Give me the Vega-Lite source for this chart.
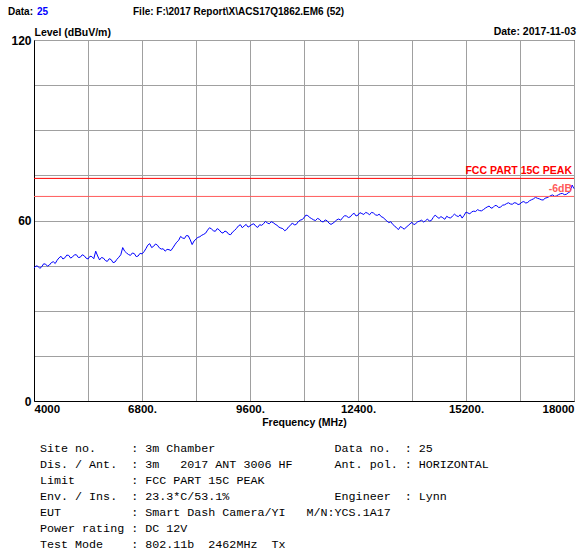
{
  "$schema": "https://vega.github.io/schema/vega-lite/v6.json",
  "width": 540,
  "height": 361,
  "autosize": "none",
  "padding": {"left": 34, "top": 40, "right": 8, "bottom": 153},
  "background": "white",
  "config": {
    "view": {"stroke": "black", "strokeWidth": 1},
    "font": "Liberation Sans"
  },
  "title": {
    "text": [
      "Site no.\u00a0\u00a0\u00a0\u00a0\u00a0: 3m Chamber\u00a0\u00a0\u00a0\u00a0\u00a0\u00a0\u00a0\u00a0\u00a0\u00a0\u00a0\u00a0\u00a0\u00a0\u00a0\u00a0\u00a0Data no.\u00a0\u00a0: 25",
      "Dis. / Ant.\u00a0\u00a0: 3m\u00a0\u00a0\u00a02017 ANT 3006 HF\u00a0\u00a0\u00a0\u00a0\u00a0\u00a0Ant. pol. : HORIZONTAL",
      "Limit\u00a0\u00a0\u00a0\u00a0\u00a0\u00a0\u00a0\u00a0: FCC PART 15C PEAK",
      "Env. / Ins.\u00a0\u00a0: 23.3*C/53.1%\u00a0\u00a0\u00a0\u00a0\u00a0\u00a0\u00a0\u00a0\u00a0\u00a0\u00a0\u00a0\u00a0\u00a0\u00a0Engineer\u00a0\u00a0: Lynn",
      "EUT\u00a0\u00a0\u00a0\u00a0\u00a0\u00a0\u00a0\u00a0\u00a0\u00a0: Smart Dash Camera/YI\u00a0\u00a0\u00a0M/N:YCS.1A17",
      "Power rating : DC 12V",
      "Test Mode\u00a0\u00a0\u00a0\u00a0: 802.11b\u00a0\u00a02462MHz\u00a0\u00a0Tx"
    ],
    "orient": "bottom",
    "anchor": "start",
    "frame": "group",
    "font": "Liberation Mono",
    "fontSize": 11.7,
    "fontWeight": "normal",
    "color": "black",
    "lineHeight": 16,
    "offset": 15,
    "dx": 6
  },
  "datasets": {
    "trace": [
      {"freq": 4000, "level": 44.2}, {"freq": 4050, "level": 44.9}, {"freq": 4100, "level": 44.8}, {"freq": 4150, "level": 44.1},
      {"freq": 4200, "level": 44.6}, {"freq": 4250, "level": 45.6}, {"freq": 4300, "level": 45.5}, {"freq": 4350, "level": 44.8},
      {"freq": 4400, "level": 45.2}, {"freq": 4450, "level": 46.0}, {"freq": 4500, "level": 46.3}, {"freq": 4550, "level": 45.7},
      {"freq": 4600, "level": 46.8}, {"freq": 4650, "level": 47.6}, {"freq": 4700, "level": 48.1}, {"freq": 4750, "level": 47.2},
      {"freq": 4800, "level": 47.6}, {"freq": 4850, "level": 48.5}, {"freq": 4900, "level": 48.4}, {"freq": 4950, "level": 47.5},
      {"freq": 5000, "level": 47.9}, {"freq": 5050, "level": 48.6}, {"freq": 5100, "level": 48.6}, {"freq": 5150, "level": 47.7},
      {"freq": 5200, "level": 47.8}, {"freq": 5250, "level": 48.6}, {"freq": 5300, "level": 48.3}, {"freq": 5350, "level": 47.5},
      {"freq": 5400, "level": 47.2}, {"freq": 5450, "level": 48.1}, {"freq": 5500, "level": 48.0}, {"freq": 5550, "level": 47.3},
      {"freq": 5600, "level": 49.8}, {"freq": 5650, "level": 48.2}, {"freq": 5700, "level": 46.9}, {"freq": 5750, "level": 47.7},
      {"freq": 5800, "level": 47.5}, {"freq": 5850, "level": 46.7}, {"freq": 5900, "level": 46.4}, {"freq": 5950, "level": 47.3},
      {"freq": 6000, "level": 47.0}, {"freq": 6050, "level": 46.0}, {"freq": 6100, "level": 46.2}, {"freq": 6150, "level": 47.1},
      {"freq": 6200, "level": 47.8}, {"freq": 6250, "level": 48.6}, {"freq": 6300, "level": 51.0}, {"freq": 6350, "level": 49.8},
      {"freq": 6400, "level": 49.2}, {"freq": 6450, "level": 48.7}, {"freq": 6500, "level": 48.4}, {"freq": 6550, "level": 49.2},
      {"freq": 6600, "level": 49.0}, {"freq": 6650, "level": 48.0}, {"freq": 6700, "level": 48.2}, {"freq": 6750, "level": 49.1},
      {"freq": 6800, "level": 48.9}, {"freq": 6850, "level": 49.6}, {"freq": 6900, "level": 50.6}, {"freq": 6950, "level": 51.8},
      {"freq": 7000, "level": 52.3}, {"freq": 7050, "level": 51.0}, {"freq": 7100, "level": 51.4}, {"freq": 7150, "level": 52.2},
      {"freq": 7200, "level": 51.8}, {"freq": 7250, "level": 50.9}, {"freq": 7300, "level": 50.5}, {"freq": 7350, "level": 50.6},
      {"freq": 7400, "level": 49.8}, {"freq": 7450, "level": 50.4}, {"freq": 7500, "level": 50.3}, {"freq": 7550, "level": 50.0},
      {"freq": 7600, "level": 50.9}, {"freq": 7650, "level": 51.9}, {"freq": 7700, "level": 52.8}, {"freq": 7750, "level": 53.4},
      {"freq": 7800, "level": 54.7}, {"freq": 7850, "level": 54.2}, {"freq": 7900, "level": 54.0}, {"freq": 7950, "level": 55.0},
      {"freq": 8000, "level": 54.9}, {"freq": 8050, "level": 53.6}, {"freq": 8100, "level": 52.0}, {"freq": 8150, "level": 53.2},
      {"freq": 8200, "level": 53.8}, {"freq": 8250, "level": 54.4}, {"freq": 8300, "level": 54.6}, {"freq": 8350, "level": 55.1},
      {"freq": 8400, "level": 55.4}, {"freq": 8450, "level": 55.8}, {"freq": 8500, "level": 56.8}, {"freq": 8550, "level": 57.6},
      {"freq": 8600, "level": 57.2}, {"freq": 8650, "level": 56.6}, {"freq": 8700, "level": 56.4}, {"freq": 8750, "level": 57.3},
      {"freq": 8800, "level": 56.9}, {"freq": 8850, "level": 56.1}, {"freq": 8900, "level": 55.8}, {"freq": 8950, "level": 56.5},
      {"freq": 9000, "level": 56.2}, {"freq": 9050, "level": 55.4}, {"freq": 9100, "level": 55.3}, {"freq": 9150, "level": 56.2},
      {"freq": 9200, "level": 56.7}, {"freq": 9250, "level": 57.4}, {"freq": 9300, "level": 58.2}, {"freq": 9350, "level": 58.6},
      {"freq": 9400, "level": 57.6}, {"freq": 9450, "level": 58.2}, {"freq": 9500, "level": 58.7}, {"freq": 9550, "level": 57.8},
      {"freq": 9600, "level": 58.2}, {"freq": 9650, "level": 58.7}, {"freq": 9700, "level": 58.9}, {"freq": 9750, "level": 58.1},
      {"freq": 9800, "level": 57.7}, {"freq": 9850, "level": 58.6}, {"freq": 9900, "level": 58.4}, {"freq": 9950, "level": 58.9},
      {"freq": 10000, "level": 59.7}, {"freq": 10050, "level": 59.2}, {"freq": 10100, "level": 58.9}, {"freq": 10150, "level": 59.6},
      {"freq": 10200, "level": 59.3}, {"freq": 10250, "level": 58.8}, {"freq": 10300, "level": 58.4}, {"freq": 10350, "level": 57.8},
      {"freq": 10400, "level": 57.5}, {"freq": 10450, "level": 57.3}, {"freq": 10500, "level": 56.6}, {"freq": 10550, "level": 57.0},
      {"freq": 10600, "level": 57.9}, {"freq": 10650, "level": 58.4}, {"freq": 10700, "level": 59.2}, {"freq": 10750, "level": 58.5},
      {"freq": 10800, "level": 58.7}, {"freq": 10850, "level": 59.6}, {"freq": 10900, "level": 60.1}, {"freq": 10950, "level": 60.3},
      {"freq": 11000, "level": 60.9}, {"freq": 11050, "level": 61.8}, {"freq": 11100, "level": 61.6}, {"freq": 11150, "level": 61.0},
      {"freq": 11200, "level": 60.6}, {"freq": 11250, "level": 60.2}, {"freq": 11300, "level": 60.0}, {"freq": 11350, "level": 60.7},
      {"freq": 11400, "level": 60.4}, {"freq": 11450, "level": 59.7}, {"freq": 11500, "level": 59.5}, {"freq": 11550, "level": 60.2},
      {"freq": 11600, "level": 59.9}, {"freq": 11650, "level": 59.1}, {"freq": 11700, "level": 58.7}, {"freq": 11750, "level": 59.1},
      {"freq": 11800, "level": 59.6}, {"freq": 11850, "level": 60.2}, {"freq": 11900, "level": 60.5}, {"freq": 11950, "level": 60.1},
      {"freq": 12000, "level": 60.9}, {"freq": 12050, "level": 61.6}, {"freq": 12100, "level": 61.5}, {"freq": 12150, "level": 61.0},
      {"freq": 12200, "level": 61.2}, {"freq": 12250, "level": 62.0}, {"freq": 12300, "level": 62.4}, {"freq": 12350, "level": 61.5},
      {"freq": 12400, "level": 61.8}, {"freq": 12450, "level": 62.6}, {"freq": 12500, "level": 62.3}, {"freq": 12550, "level": 62.0},
      {"freq": 12600, "level": 62.7}, {"freq": 12650, "level": 62.4}, {"freq": 12700, "level": 61.9}, {"freq": 12750, "level": 62.7},
      {"freq": 12800, "level": 62.5}, {"freq": 12850, "level": 61.9}, {"freq": 12900, "level": 61.7}, {"freq": 12950, "level": 62.1},
      {"freq": 13000, "level": 61.3}, {"freq": 13050, "level": 61.0}, {"freq": 13100, "level": 60.4}, {"freq": 13150, "level": 59.8},
      {"freq": 13200, "level": 59.3}, {"freq": 13250, "level": 59.6}, {"freq": 13300, "level": 58.7}, {"freq": 13350, "level": 58.2},
      {"freq": 13400, "level": 57.5}, {"freq": 13450, "level": 57.0}, {"freq": 13500, "level": 58.0}, {"freq": 13550, "level": 57.6},
      {"freq": 13600, "level": 57.1}, {"freq": 13650, "level": 57.8}, {"freq": 13700, "level": 58.3}, {"freq": 13750, "level": 58.9},
      {"freq": 13800, "level": 59.4}, {"freq": 13850, "level": 58.6}, {"freq": 13900, "level": 59.0}, {"freq": 13950, "level": 59.6},
      {"freq": 14000, "level": 59.8}, {"freq": 14050, "level": 60.1}, {"freq": 14100, "level": 59.5}, {"freq": 14150, "level": 59.9},
      {"freq": 14200, "level": 60.5}, {"freq": 14250, "level": 59.8}, {"freq": 14300, "level": 60.0}, {"freq": 14350, "level": 61.0},
      {"freq": 14400, "level": 61.8}, {"freq": 14450, "level": 61.2}, {"freq": 14500, "level": 60.7}, {"freq": 14550, "level": 61.3},
      {"freq": 14600, "level": 60.9}, {"freq": 14650, "level": 60.4}, {"freq": 14700, "level": 61.4}, {"freq": 14750, "level": 61.0},
      {"freq": 14800, "level": 60.8}, {"freq": 14850, "level": 61.5}, {"freq": 14900, "level": 62.1}, {"freq": 14950, "level": 61.6},
      {"freq": 15000, "level": 61.3}, {"freq": 15050, "level": 61.9}, {"freq": 15100, "level": 60.8}, {"freq": 15150, "level": 61.7},
      {"freq": 15200, "level": 62.8}, {"freq": 15250, "level": 62.5}, {"freq": 15300, "level": 62.2}, {"freq": 15350, "level": 62.9},
      {"freq": 15400, "level": 63.1}, {"freq": 15450, "level": 63.0}, {"freq": 15500, "level": 63.6}, {"freq": 15550, "level": 63.3},
      {"freq": 15600, "level": 63.2}, {"freq": 15650, "level": 63.6}, {"freq": 15700, "level": 64.1}, {"freq": 15750, "level": 64.5},
      {"freq": 15800, "level": 64.8}, {"freq": 15850, "level": 64.1}, {"freq": 15900, "level": 64.3}, {"freq": 15950, "level": 65.0},
      {"freq": 16000, "level": 64.9}, {"freq": 16050, "level": 64.3}, {"freq": 16100, "level": 64.5}, {"freq": 16150, "level": 65.1},
      {"freq": 16200, "level": 65.2}, {"freq": 16250, "level": 65.6}, {"freq": 16300, "level": 65.9}, {"freq": 16350, "level": 65.5},
      {"freq": 16400, "level": 65.4}, {"freq": 16450, "level": 65.9}, {"freq": 16500, "level": 65.8}, {"freq": 16550, "level": 65.3},
      {"freq": 16600, "level": 65.5}, {"freq": 16650, "level": 66.1}, {"freq": 16700, "level": 66.3}, {"freq": 16750, "level": 65.8},
      {"freq": 16800, "level": 66.0}, {"freq": 16850, "level": 66.6}, {"freq": 16900, "level": 66.9}, {"freq": 16950, "level": 67.2},
      {"freq": 17000, "level": 67.7}, {"freq": 17050, "level": 67.4}, {"freq": 17100, "level": 67.2}, {"freq": 17150, "level": 66.9},
      {"freq": 17200, "level": 66.8}, {"freq": 17250, "level": 67.4}, {"freq": 17300, "level": 67.6}, {"freq": 17350, "level": 67.9},
      {"freq": 17400, "level": 68.3}, {"freq": 17450, "level": 68.5}, {"freq": 17500, "level": 68.0}, {"freq": 17550, "level": 68.2},
      {"freq": 17600, "level": 68.6}, {"freq": 17650, "level": 68.9}, {"freq": 17700, "level": 69.0}, {"freq": 17750, "level": 68.6},
      {"freq": 17800, "level": 68.7}, {"freq": 17850, "level": 69.2}, {"freq": 17900, "level": 69.6}, {"freq": 17950, "level": 71.8},
      {"freq": 18000, "level": 70.6}
    ],
    "limits": [
      {"name": "FCC PART 15C PEAK", "level": 74},
      {"name": "-6dB", "level": 68}
    ]
  },
  "layer": [
    {
      "data": {"name": "trace"},
      "mark": {"type": "line", "color": "#0000ff", "strokeWidth": 1},
      "encoding": {
        "x": {
          "field": "freq", "type": "quantitative",
          "scale": {"domain": [4000, 18000], "nice": false, "zero": false},
          "axis": {
            "values": [4000, 5400, 6800, 8200, 9600, 11000, 12400, 13800, 15200, 16600, 18000],
            "format": "d",
            "labelExpr": "datum.value == 4000 || datum.value == 18000 ? datum.label : ((datum.value - 4000) % 2800 == 0 ? datum.label + '.' : '')",
            "labelFlush": true,
            "labelOverlap": false,
            "labelFont": "Liberation Sans",
            "labelFontWeight": "bold",
            "labelFontSize": 11.5,
            "labelColor": "black",
            "labelPadding": 2,
            "ticks": false,
            "grid": true,
            "gridColor": "#a0a0a0",
            "gridWidth": 1,
            "domainColor": "black",
            "title": "Frequency (MHz)",
            "titleFont": "Liberation Sans",
            "titleFontWeight": "bold",
            "titleFontSize": 10.5,
            "titleColor": "black",
            "titlePadding": 3
          }
        },
        "y": {
          "field": "level", "type": "quantitative",
          "scale": {"domain": [0, 120], "nice": false},
          "axis": {
            "values": [0, 15, 30, 45, 60, 75, 90, 105, 120],
            "labelExpr": "datum.value % 60 == 0 ? datum.label : ''",
            "labelOverlap": false,
            "labelFont": "Liberation Sans",
            "labelFontWeight": "bold",
            "labelFontSize": 12,
            "labelColor": "black",
            "labelPadding": 3,
            "ticks": false,
            "grid": true,
            "gridColor": "#a0a0a0",
            "gridWidth": 1,
            "domainColor": "black",
            "title": "Level (dBuV/m)",
            "titleFont": "Liberation Sans",
            "titleFontWeight": "bold",
            "titleFontSize": 10.5,
            "titleColor": "black",
            "titleAngle": 0,
            "titleAlign": "left",
            "titleBaseline": "alphabetic",
            "titleX": 0,
            "titleY": -5
          }
        }
      }
    },
    {
      "data": {"name": "limits"},
      "mark": {"type": "rule", "strokeWidth": 1},
      "encoding": {
        "y": {"field": "level", "type": "quantitative"},
        "color": {
          "field": "name", "type": "nominal",
          "scale": {"domain": ["FCC PART 15C PEAK", "-6dB"], "range": ["#ff0000", "#ff5a5a"]},
          "legend": null
        }
      }
    },
    {
      "data": {"name": "limits"},
      "mark": {
        "type": "text", "align": "right", "baseline": "alphabetic", "dx": -2, "dy": -4,
        "font": "Liberation Sans", "fontWeight": "bold", "fontSize": 10.5
      },
      "encoding": {
        "x": {"datum": 18000, "type": "quantitative"},
        "y": {"field": "level", "type": "quantitative"},
        "text": {"field": "name"},
        "color": {
          "field": "name", "type": "nominal",
          "scale": {"domain": ["FCC PART 15C PEAK", "-6dB"], "range": ["#ff0000", "#ff8080"]},
          "legend": null
        }
      }
    },
    {
      "data": {"values": [{"label": "Data:"}]},
      "mark": {"type": "text", "align": "left", "baseline": "alphabetic", "dx": -26, "dy": -25, "color": "black",
        "font": "Liberation Sans", "fontWeight": "bold", "fontSize": 10},
      "encoding": {
        "x": {"datum": 4000, "type": "quantitative"},
        "y": {"datum": 120, "type": "quantitative"},
        "text": {"field": "label"}
      }
    },
    {
      "data": {"values": [{"label": "25"}]},
      "mark": {"type": "text", "align": "left", "baseline": "alphabetic", "dx": 3, "dy": -25, "color": "#0000ff",
        "font": "Liberation Sans", "fontWeight": "bold", "fontSize": 10},
      "encoding": {
        "x": {"datum": 4000, "type": "quantitative"},
        "y": {"datum": 120, "type": "quantitative"},
        "text": {"field": "label"}
      }
    },
    {
      "data": {"values": [{"label": "File: F:\\2017 Report\\X\\ACS17Q1862.EM6  (52)"}]},
      "mark": {"type": "text", "align": "left", "baseline": "alphabetic", "dx": 99, "dy": -25, "color": "black",
        "font": "Liberation Sans", "fontWeight": "bold", "fontSize": 10},
      "encoding": {
        "x": {"datum": 4000, "type": "quantitative"},
        "y": {"datum": 120, "type": "quantitative"},
        "text": {"field": "label"}
      }
    },
    {
      "data": {"values": [{"label": "Date: 2017-11-03"}]},
      "mark": {"type": "text", "align": "right", "baseline": "alphabetic", "dx": 2, "dy": -5, "color": "black",
        "font": "Liberation Sans", "fontWeight": "bold", "fontSize": 10.5},
      "encoding": {
        "x": {"datum": 18000, "type": "quantitative"},
        "y": {"datum": 120, "type": "quantitative"},
        "text": {"field": "label"}
      }
    }
  ]
}
